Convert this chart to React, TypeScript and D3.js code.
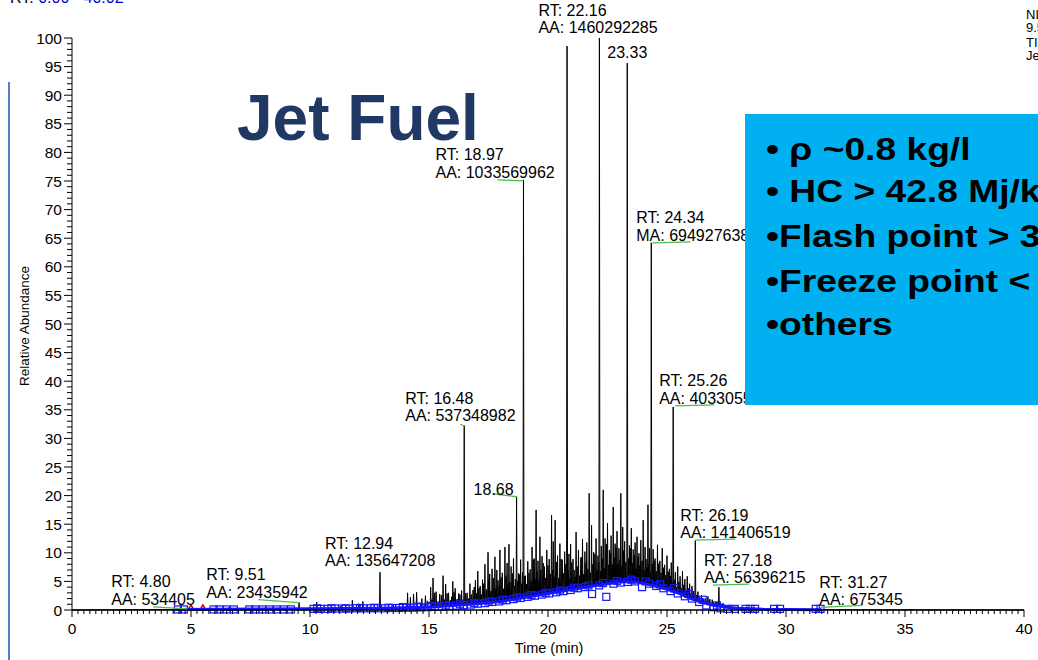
import React from "react";
import * as d3 from "d3";

// ---- DATA ----
// chromatogram apex list: [retention time (min), relative abundance (%)]
const peaks: [number, number][] = [
  [5.05, 0.3], [6.6, 0.5], [8.6, 0.3], [9.54, 1.3], [10.28, 1.4], [10.9, 0.8], [11.3, 0.7],
  [11.78, 1.7], [12.05, 1.1], [12.22, 1.5], [12.94, 6.6], [13.5, 0.9], [13.9, 1.0],
  [14.1, 3.0], [14.22, 2.2], [14.35, 2.8], [14.48, 3.1], [14.7, 2.0], [14.85, 2.5], [14.93, 1.6],
  [15.07, 4.0], [15.17, 5.6], [15.3, 3.2], [15.45, 2.8], [15.59, 6.0], [15.7, 4.5], [15.82, 3.0],
  [16.0, 5.0], [16.1, 3.8], [16.25, 2.9], [16.37, 3.4], [16.48, 32.3], [16.6, 3.0], [16.72, 4.6],
  [16.85, 3.5], [16.95, 5.2], [17.05, 6.8], [17.15, 4.2], [17.25, 5.3], [17.35, 8.0], [17.48, 10.1],
  [17.55, 6.3], [17.65, 7.2], [17.77, 9.3], [17.85, 7.0], [17.98, 10.5], [18.08, 6.5], [18.19, 11.0],
  [18.28, 8.2], [18.36, 11.5], [18.45, 7.6], [18.55, 9.0], [18.68, 19.8], [18.76, 6.4], [18.85, 8.8],
  [18.97, 75.2], [19.05, 6.0], [19.15, 8.5], [19.25, 7.1], [19.33, 11.0], [19.42, 9.0], [19.5, 17.5],
  [19.58, 8.6], [19.66, 12.8], [19.75, 9.4], [19.85, 7.6], [19.95, 10.5], [20.05, 8.9], [20.15, 16.6],
  [20.22, 12.0], [20.3, 15.7], [20.4, 9.5], [20.5, 11.6], [20.6, 8.8], [20.7, 10.2], [20.8, 98.6],
  [20.88, 9.8], [20.95, 11.5], [21.05, 8.9], [21.18, 13.6], [21.28, 10.5], [21.38, 9.2], [21.45, 12.4],
  [21.55, 10.2], [21.63, 11.8], [21.73, 20.4], [21.83, 14.8], [21.92, 10.1], [22.02, 12.5], [22.1, 9.5],
  [22.16, 100], [22.24, 11.2], [22.32, 21.0], [22.4, 12.5], [22.5, 15.2], [22.58, 10.5], [22.65, 13.0],
  [22.74, 18.0], [22.82, 11.6], [22.9, 13.8], [22.98, 10.8], [23.06, 20.4], [23.14, 14.5], [23.22, 12.0],
  [23.33, 95.6], [23.42, 11.3], [23.5, 14.3], [23.58, 10.6], [23.66, 11.8], [23.74, 12.8], [23.82, 9.9],
  [23.9, 12.2], [24.0, 15.7], [24.08, 11.0], [24.2, 18.4], [24.27, 10.8], [24.34, 64.2], [24.42, 10.6],
  [24.5, 9.0], [24.6, 11.4], [24.7, 8.6], [24.8, 10.8], [24.9, 7.9], [25.0, 9.5], [25.1, 7.2],
  [25.18, 8.3], [25.26, 35.5], [25.35, 6.6], [25.45, 7.6], [25.55, 5.9], [25.65, 6.8], [25.75, 5.4],
  [25.85, 5.9], [25.95, 4.6], [26.05, 4.2], [26.19, 12.2], [26.3, 3.2], [26.45, 2.6], [26.6, 2.0],
  [26.72, 2.4], [26.9, 1.8], [27.05, 1.4], [27.18, 4.0], [27.35, 1.2], [27.6, 0.9], [28.0, 0.6],
  [28.6, 0.4], [29.5, 0.3], [31.3, 0.3],
];
// smaller unresolved components filling the hump: [time, abundance]
const grass: [number, number][] = [
  [15.12, 1.8], [15.24, 3.0], [15.38, 1.5], [15.52, 2.6], [15.65, 1.8], [15.76, 2.9], [15.9, 1.7],
  [15.95, 2.3], [16.05, 3.1], [16.18, 1.9], [16.3, 2.7], [16.43, 1.8], [16.54, 2.9], [16.66, 2.0],
  [16.78, 2.7], [16.9, 4.0], [17.0, 2.9], [17.1, 3.8], [17.2, 2.7], [17.3, 4.6], [17.41, 3.6],
  [17.52, 5.4], [17.6, 3.3], [17.7, 5.6], [17.81, 3.8], [17.9, 5.2], [17.94, 4.2], [18.03, 5.7],
  [18.13, 3.7], [18.24, 6.0], [18.32, 4.4], [18.4, 4.9], [18.5, 6.4], [18.6, 4.2], [18.63, 5.4],
  [18.72, 5.0], [18.8, 6.2], [18.9, 4.6], [18.93, 6.6], [19.01, 5.9], [19.1, 4.5], [19.2, 6.5],
  [19.29, 5.1], [19.38, 8.8], [19.46, 5.4], [19.54, 6.8], [19.62, 5.0], [19.7, 7.0], [19.8, 8.2],
  [19.9, 5.6], [20.0, 7.8], [20.1, 6.3], [20.19, 7.0], [20.26, 5.8], [20.35, 8.4], [20.45, 5.6],
  [20.55, 8.9], [20.65, 6.4], [20.75, 8.0], [20.84, 7.0], [20.92, 5.6], [21.0, 8.3], [21.1, 7.0],
  [21.14, 5.8], [21.23, 7.6], [21.33, 6.0], [21.42, 9.2], [21.5, 6.3], [21.6, 8.3], [21.68, 7.2],
  [21.78, 6.5], [21.88, 8.0], [21.97, 9.8], [22.06, 7.0], [22.13, 8.3], [22.2, 6.8], [22.28, 9.0],
  [22.36, 7.3], [22.45, 11.5], [22.54, 7.9], [22.62, 10.0], [22.7, 8.0], [22.78, 9.2], [22.86, 10.9],
  [22.94, 8.1], [23.02, 8.8], [23.1, 7.7], [23.18, 10.4], [23.27, 8.4], [23.38, 9.0], [23.46, 10.8],
  [23.54, 8.2], [23.62, 9.6], [23.7, 7.2], [23.78, 9.3], [23.86, 7.8], [23.95, 8.6], [24.04, 7.0],
  [24.12, 8.9], [24.16, 7.5], [24.24, 8.0], [24.3, 6.6], [24.38, 8.1], [24.46, 8.6], [24.55, 6.8],
  [24.65, 8.1], [24.75, 6.5], [24.85, 7.4], [24.95, 6.1], [25.05, 6.7], [25.14, 5.9], [25.22, 4.8],
  [25.3, 5.3], [25.4, 4.0], [25.5, 4.9], [25.6, 3.8], [25.7, 4.4], [25.8, 3.5], [25.9, 3.8],
  [26.0, 2.9], [26.12, 3.3], [26.25, 2.6], [26.37, 2.3], [26.52, 2.0], [26.66, 1.6], [26.8, 1.9],
  [26.97, 1.2], [27.1, 1.4], [27.27, 1.1], [27.45, 0.8],
];

// detected baseline (blue): [time, abundance]
const baseline: [number, number][] = [
  [0, 0], [4.4, 0.1], [10, 0.2], [13, 0.3], [14, 0.4], [15, 0.5], [16, 0.8], [17, 1.1], [18, 1.5],
  [19, 2.2], [20, 2.9], [21, 3.6], [22, 4.3], [22.5, 4.6], [23, 4.9], [23.5, 5.0], [24, 4.7],
  [24.5, 4.2], [25, 3.6], [25.5, 2.9], [26, 2.0], [26.5, 1.3], [27, 0.8], [27.5, 0.5], [28, 0.3],
  [29, 0.15], [30, 0.1], [31.5, 0.05], [40, 0],
];

// blue baseline markers (squares): [time, abundance]
const markers: [number, number][] = [
  [4.45, 0.1], [4.7, 0.1], [5.95, 0.1], [6.2, 0.1], [6.5, 0.1], [6.8, 0.1], [7.45, 0.1], [7.7, 0.1],
  [8.0, 0.1], [8.3, 0.1], [8.6, 0.1], [8.9, 0.1], [9.2, 0.1], [10.15, 0.2], [10.45, 0.2], [10.75, 0.2],
  [11.05, 0.25], [11.35, 0.25], [11.65, 0.25], [11.95, 0.3], [12.25, 0.3], [12.55, 0.3], [12.85, 0.3],
  [13.15, 0.3], [13.45, 0.35], [13.75, 0.35], [14.05, 0.4], [14.35, 0.4], [14.65, 0.45], [14.95, 0.5],
  [15.25, 0.55], [15.55, 0.6], [15.85, 0.7], [16.15, 0.75], [16.45, 0.85], [16.75, 0.95], [17.05, 1.1],
  [17.35, 1.2], [17.65, 1.4], [17.95, 1.5], [18.25, 1.7], [18.55, 1.9], [18.85, 2.1], [19.15, 2.3],
  [19.45, 2.5], [19.75, 2.7], [20.05, 2.9], [20.35, 3.1], [20.65, 3.3], [20.95, 3.5], [21.25, 3.8],
  [21.55, 4.0], [21.85, 2.8], [22.15, 4.3], [22.45, 2.3], [22.75, 4.6], [23.05, 4.8], [23.35, 4.9],
  [23.65, 5.0], [23.95, 4.0], [24.25, 4.6], [24.55, 4.2], [24.85, 3.8], [25.15, 3.3], [25.45, 2.9],
  [25.75, 2.4], [26.05, 2.0], [26.35, 1.4], [26.65, 0.8], [26.95, 0.5], [27.25, 0.3], [27.55, 0.2],
  [27.85, 0.2], [28.3, 0.2], [28.5, 0.2], [28.7, 0.2], [29.5, 0.2], [29.75, 0.2], [31.25, 0.2], [31.45, 0.2],
  // second, offset row in the crowded part
  [10.3, 0.3], [10.9, 0.3], [11.5, 0.3], [12.1, 0.35], [12.7, 0.4], [13.3, 0.4], [13.9, 0.5],
  [14.5, 0.6], [15.1, 0.7], [15.7, 0.8], [16.3, 1.0], [16.9, 1.2], [17.5, 1.5], [18.1, 1.8],
  [18.7, 2.2], [19.3, 2.6], [19.9, 3.0], [20.5, 3.4], [21.1, 3.9], [21.7, 4.3], [22.3, 4.7],
  [22.9, 5.1], [23.5, 5.3], [24.1, 5.0], [24.7, 4.5], [25.3, 3.8], [25.9, 2.8], [26.5, 1.8], [27.1, 0.8],
];

// red integration segment
const redSegment: [number, number][] = [[4.66, 0], [5.0, 0], [5.5, 0], [5.67, 0]];
const redMarks: number[] = [5.0, 5.5];

// peak labels
const labelRT: number[] = [4.8, 9.51, 12.94, 16.48, 18.68, 18.97, 22.16, 23.33, 24.34, 25.26, 26.19, 27.18, 31.27];
const labelHeight: number[] = [0.2, 1.3, 6.6, 32.3, 19.8, 75.2, 100, 95.6, 64.2, 35.5, 12.2, 4.0, 0.3];
const labelText: string[][] = [
  ["RT: 4.80", "AA: 534405"],
  ["RT: 9.51", "AA: 23435942"],
  ["RT: 12.94", "AA: 135647208"],
  ["RT: 16.48", "AA: 537348982"],
  ["18.68"],
  ["RT: 18.97", "AA: 1033569962"],
  ["RT: 22.16", "AA: 1460292285"],
  ["23.33"],
  ["RT: 24.34", "MA: 694927638"],
  ["RT: 25.26", "AA: 403305521"],
  ["RT: 26.19", "AA: 141406519"],
  ["RT: 27.18", "AA: 56396215"],
  ["RT: 31.27", "AA: 675345"],
];
const yTickLabels: number[] = [0, 5, 10, 15, 20, 25, 30, 35, 40, 45, 50, 55, 60, 65, 70, 75, 80, 85, 90, 95, 100];
const xTickLabels: number[] = [0, 5, 10, 15, 20, 25, 30, 35, 40];
const bullets: string[] = ["\u2022 \u03c1 ~0.8 kg/l", "\u2022 HC > 42.8 Mj/kg", "\u2022Flash point > 38\u00b0C", "\u2022Freeze point < -47\u00b0C", "\u2022others"];
const headerLines: string[] = ["NL:", "9.56E8", "TIC MS", "Jet_Fuel"];

// ---- LAYOUT (pixel offsets of labels from the apex) ----
const labelOffset: [number, number][] = [
  [-75, -4], [-92, -5], [-55, -6], [-59, -4], [-43, -2], [-88, -2], [-61, -5], [-20, -5],
  [-15, -2], [-14, -3], [-15, -2], [-15, -4], [3, -3],
];
// green lines: [dx1, dy1, dx2, dy2] relative to apex
const greenOffset: ([number, number, number, number] | null)[] = [
  [-33, -2, 1, 0], [-40, -3, 0, 0], null, [-4, -1, 1, 1], [-24, -3, 0, 0], [-26, 0, 0, 1], null, null,
  [1, 0, 39, -1], [2, -1, 41, -2], [0, 0, 40, -1], [-6, -2, 30, -3], [4, -1, 46, -3],
];

const FONT = "'Liberation Sans', Arial, Helvetica, sans-serif";

export default function App() {
  const W = 1038, H = 660;
  const x = d3.scaleLinear().domain([0, 40]).range([72, 1024]);
  const y = d3.scaleLinear().domain([0, 100]).range([610, 38]);
  const baseAt = d3.scaleLinear().domain(baseline.map((d) => d[0])).range(baseline.map((d) => d[1])).clamp(true);

  const allPeaks = d3.sort([...peaks, ...grass], (d) => d[0]);
  const hw = 0.02;
  const tracePts: [number, number][] = [[0, 0]];
  allPeaks.forEach(([t, h]) => {
    tracePts.push([t - hw, baseAt(t - hw)]);
    tracePts.push([t, h]);
    tracePts.push([t + hw, baseAt(t + hw)]);
  });
  tracePts.push([40, 0]);
  const line = d3.line<[number, number]>().x((d) => x(d[0])).y((d) => y(d[1]));

  const blueLine = baseline.filter((d) => d[0] >= 4.4 && d[0] <= 31.5);

  const yMinor = d3.range(0, 101, 1);
  const xMinor = d3.range(0, 40.01, 0.25);
  const boxBase = [160, 202, 247, 292, 335];
  const headerBase = [19, 32, 47, 60];

  return (
    <svg width={W} height={H} style={{ position: "fixed", left: 0, top: 0, background: "#fff" }} fontFamily={FONT}>
      <rect x={0} y={0} width={W} height={H} fill="#ffffff" />
      {/* top-left range text */}
      <text x={10} y={3} fontSize={16} fill="#000">
        RT: <tspan fill="#0000cc">0.00 - 40.02</tspan>
      </text>
      {/* top-right header */}
      <g fontSize={13} fill="#000">
        {headerLines.map((s, i) => (
          <text key={i} x={1026} y={headerBase[i]}>{s}</text>
        ))}
      </g>
      {/* slide left bar */}
      <line x1={9} x2={9} y1={82} y2={660} stroke="#4f81bd" strokeWidth={2} />

      {/* black trace */}
      <path d={line(tracePts) || ""} fill="none" stroke="#000" strokeWidth={1} strokeLinejoin="miter" />

      {/* red segment */}
      <path d={line(redSegment) || ""} fill="none" stroke="#e00000" strokeWidth={2} />
      {redMarks.map((t, i) => (
        <path key={i} d={`M${x(t) - 3},${y(0)} L${x(t)},${y(0) - 5} L${x(t) + 3},${y(0)}`} fill="none" stroke="#e00000" strokeWidth={1.5} />
      ))}

      {/* blue baseline */}
      <path d={line(blueLine) || ""} fill="none" stroke="#1515ff" strokeWidth={3} />
      {markers.map(([t, v], i) => (
        <rect key={i} x={x(t) - 3.5} y={y(v) - 3.5} width={7} height={7} fill="none" stroke="#1515ff" strokeWidth={1.2} />
      ))}

      {/* axes */}
      <line x1={72} x2={72} y1={y(100)} y2={y(0)} stroke="#000" strokeWidth={1} />
      <line x1={72} x2={1024} y1={y(0)} y2={y(0)} stroke="#000" strokeWidth={1.3} />
      {yMinor.map((v) => (
        <line key={v} x1={v % 5 === 0 ? 64 : 67} x2={72} y1={y(v)} y2={y(v)} stroke="#000" strokeWidth={1} />
      ))}
      {xMinor.map((t) => (
        <line key={t} x1={x(t)} x2={x(t)} y1={y(0)} y2={y(0) + (t % 5 === 0 ? 7 : 4)} stroke="#000" strokeWidth={1} />
      ))}
      {yTickLabels.map((v) => (
        <text key={v} x={62} y={y(v) + 5.5} fontSize={15.5} textAnchor="end" fill="#000">{v}</text>
      ))}
      {xTickLabels.map((t) => (
        <text key={t} x={x(t)} y={634} fontSize={15.5} textAnchor="middle" fill="#000">{t}</text>
      ))}
      <text x={549} y={653} fontSize={14.5} textAnchor="middle" fill="#000">Time (min)</text>
      <text transform="translate(29,326) rotate(-90)" fontSize={13.5} textAnchor="middle" fill="#000">Relative Abundance</text>

      {/* green label lines */}
      {greenOffset.map((g, i) => {
        if (!g) return null;
        const px = x(labelRT[i]), py = y(labelHeight[i]);
        return <line key={i} x1={px + g[0]} y1={py + g[1]} x2={px + g[2]} y2={py + g[3]} stroke="#4cbb4c" strokeWidth={1.3} />;
      })}
      {/* peak labels */}
      {labelText.map((lines, i) => {
        const px = x(labelRT[i]) + labelOffset[i][0];
        const pyLast = y(labelHeight[i]) + labelOffset[i][1];
        return (
          <text key={i} fontSize={16} fill="#000">
            {lines.map((s, j) => (
              <tspan key={j} x={px} y={pyLast - (lines.length - 1 - j) * 17.5}>{s}</tspan>
            ))}
          </text>
        );
      })}

      {/* title */}
      <text x={237} y={140} fontSize={64} fontWeight="bold" fill="#203864">Jet Fuel</text>

      {/* info box */}
      <rect x={745} y={114} width={300} height={291} fill="#00b0f0" />
      <g fontSize={31} fontWeight="bold" fill="#000">
        {bullets.map((b, i) => (
          <text key={i} transform={`translate(766,${boxBase[i]}) scale(1.2,1)`}>{b}</text>
        ))}
      </g>
    </svg>
  );
}
